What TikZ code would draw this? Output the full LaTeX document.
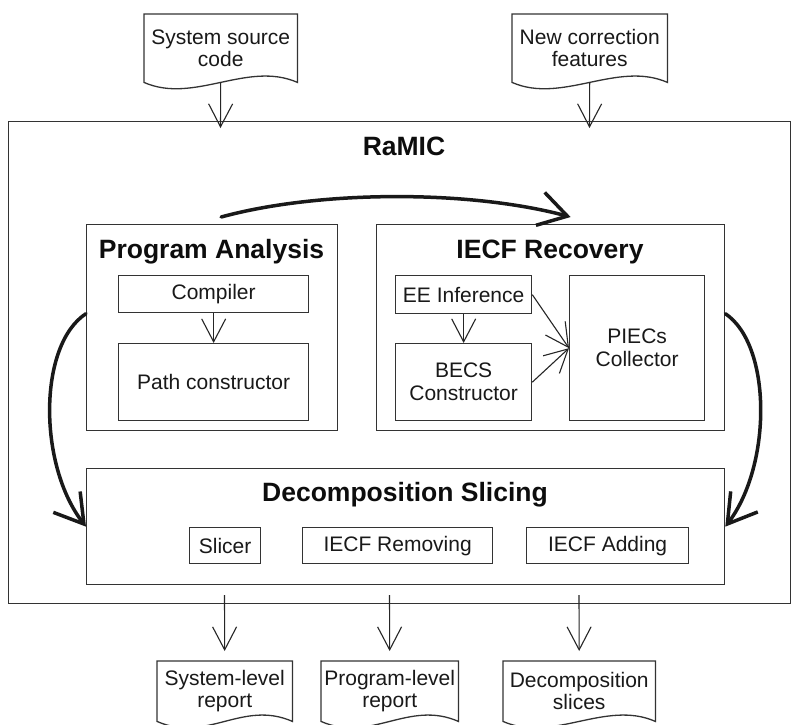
\documentclass[tikz,border=0pt]{standalone}
\usepackage{fontspec}
\setmainfont{Liberation Sans}
\usetikzlibrary{arrows.meta,calc}
\newcommand{\docoutline}[1]{\draw[ln] (#1.south west) -- (#1.north west) -- (#1.north east) -- (#1.south east) .. controls ($(#1.south east)+(-50,-22)$) and ($(#1.south west)+(50,22)$) .. (#1.south west) -- cycle;}
\begin{document}
\begin{tikzpicture}[x=1pt,y=-1pt,
  ln/.style={draw=black!80,line width=1.3pt},
  bx/.style={ln,rectangle,inner sep=0pt,anchor=north west,align=center,text=black!90,font=\fontsize{21}{23}\selectfont},
  grp/.style={ln,rectangle,inner sep=0pt,anchor=north west},
  doc/.style={rectangle,inner sep=0pt,anchor=north west,align=center,text=black!90,font=\fontsize{21}{22}\selectfont},
  ttl/.style={anchor=base,font=\bfseries\fontsize{26.5}{30}\selectfont,text=black!95},
  smallarr/.style={draw=black!85,line width=1.1pt,-{Straight Barb[length=23pt,width=24pt]}},
  bigarr/.style={draw=black!90,line width=3.5pt,line cap=round,-{Straight Barb[length=28pt,width=34pt]}},
]
\useasboundingbox (0,0) rectangle (792,724);
\fill[white] (0,0) rectangle (792,724);

% outer frame
\node[grp,minimum width=782pt,minimum height=482pt] (ramic) at (8,121) {};
\node[ttl] (ramict) at (404,155) {RaMIC};

% Program Analysis
\node[grp,minimum width=251pt,minimum height=206pt] (pa) at (86,224) {};
\node[ttl] (pat) at (211.5,258) {Program Analysis};
\node[bx,minimum width=190pt,minimum height=37pt] (comp) at (118,275) {Compiler};
\node[bx,minimum width=190pt,minimum height=77pt] (path) at (118,343) {Path constructor};

% IECF Recovery
\node[grp,minimum width=348pt,minimum height=206pt] (iecf) at (376,224) {};
\node[ttl] (iecft) at (550,258) {IECF Recovery};
\node[bx,minimum width=136pt,minimum height=38pt] (ee) at (395,275) {EE Inference};
\node[bx,minimum width=136pt,minimum height=77pt] (becs) at (395,343) {BECS\\Constructor};
\node[bx,minimum width=135pt,minimum height=145pt] (piec) at (569,275) {PIECs\\Collector};

% Decomposition Slicing
\node[grp,minimum width=638pt,minimum height=116pt] (dec) at (86,468) {};
\node[ttl] (dect) at (405,501.7) {Decomposition Slicing};
\node[bx,minimum width=71pt,minimum height=36pt] (slicer) at (189,527) {Slicer};
\node[bx,minimum width=190pt,minimum height=36pt] (rem) at (302,527) {IECF Removing};
\node[bx,minimum width=162pt,minimum height=36pt] (add) at (526,527) {IECF Adding};

% documents
\node[doc,minimum width=153pt,minimum height=68pt] (src) at (144,14) {System source\\code};
\node[doc,minimum width=155pt,minimum height=68pt] (feat) at (512,14) {New correction\\features};
\node[doc,minimum width=135pt,minimum height=60pt] (sysr) at (157,661) {System-level\\report};
\node[doc,minimum width=137pt,minimum height=60pt] (progr) at (321,661) {Program-level\\report};
\node[doc,minimum width=152pt,minimum height=60pt] (decs) at (503,661) {Decomposition\\slices};
\docoutline{src}
\docoutline{feat}
\docoutline{sysr}
\docoutline{progr}
\docoutline{decs}

% free ends
\coordinate (in1) at (220.5,128);
\coordinate (in2) at (589.5,128);
\coordinate (o1) at (224.5,595);
\coordinate (o2) at (389.5,595);
\coordinate (o3) at (579,595);

% thin arrows
\draw[smallarr] (src.south) -- (in1);
\draw[smallarr] (feat.south) -- (in2);
\draw[smallarr,shorten >=10pt] (o1) -- (sysr.north);
\draw[smallarr,shorten >=10pt] (o2) -- (progr.north);
\draw[smallarr,shorten >=10pt] (o3) -- (decs.north);
\draw[smallarr] (comp) -- (path);
\draw[smallarr] (ee) -- (becs);
\draw[smallarr] (ee.east) -- (piec.west);
\draw[smallarr] (becs.east) -- (piec.west);

% thick flow arrows
\draw[bigarr] ([xshift=9pt,yshift=7pt]pa.north) .. controls (320,190) and (470,190) .. ([xshift=20pt,yshift=7pt]iecf.north);
\draw[bigarr] ([yshift=14pt]pa.west) .. controls (38,345) and (38,465) .. (dec.west);
\draw[bigarr] ([yshift=14pt]iecf.east) .. controls (772,345) and (772,465) .. (dec.east);
\end{tikzpicture}
\end{document}
